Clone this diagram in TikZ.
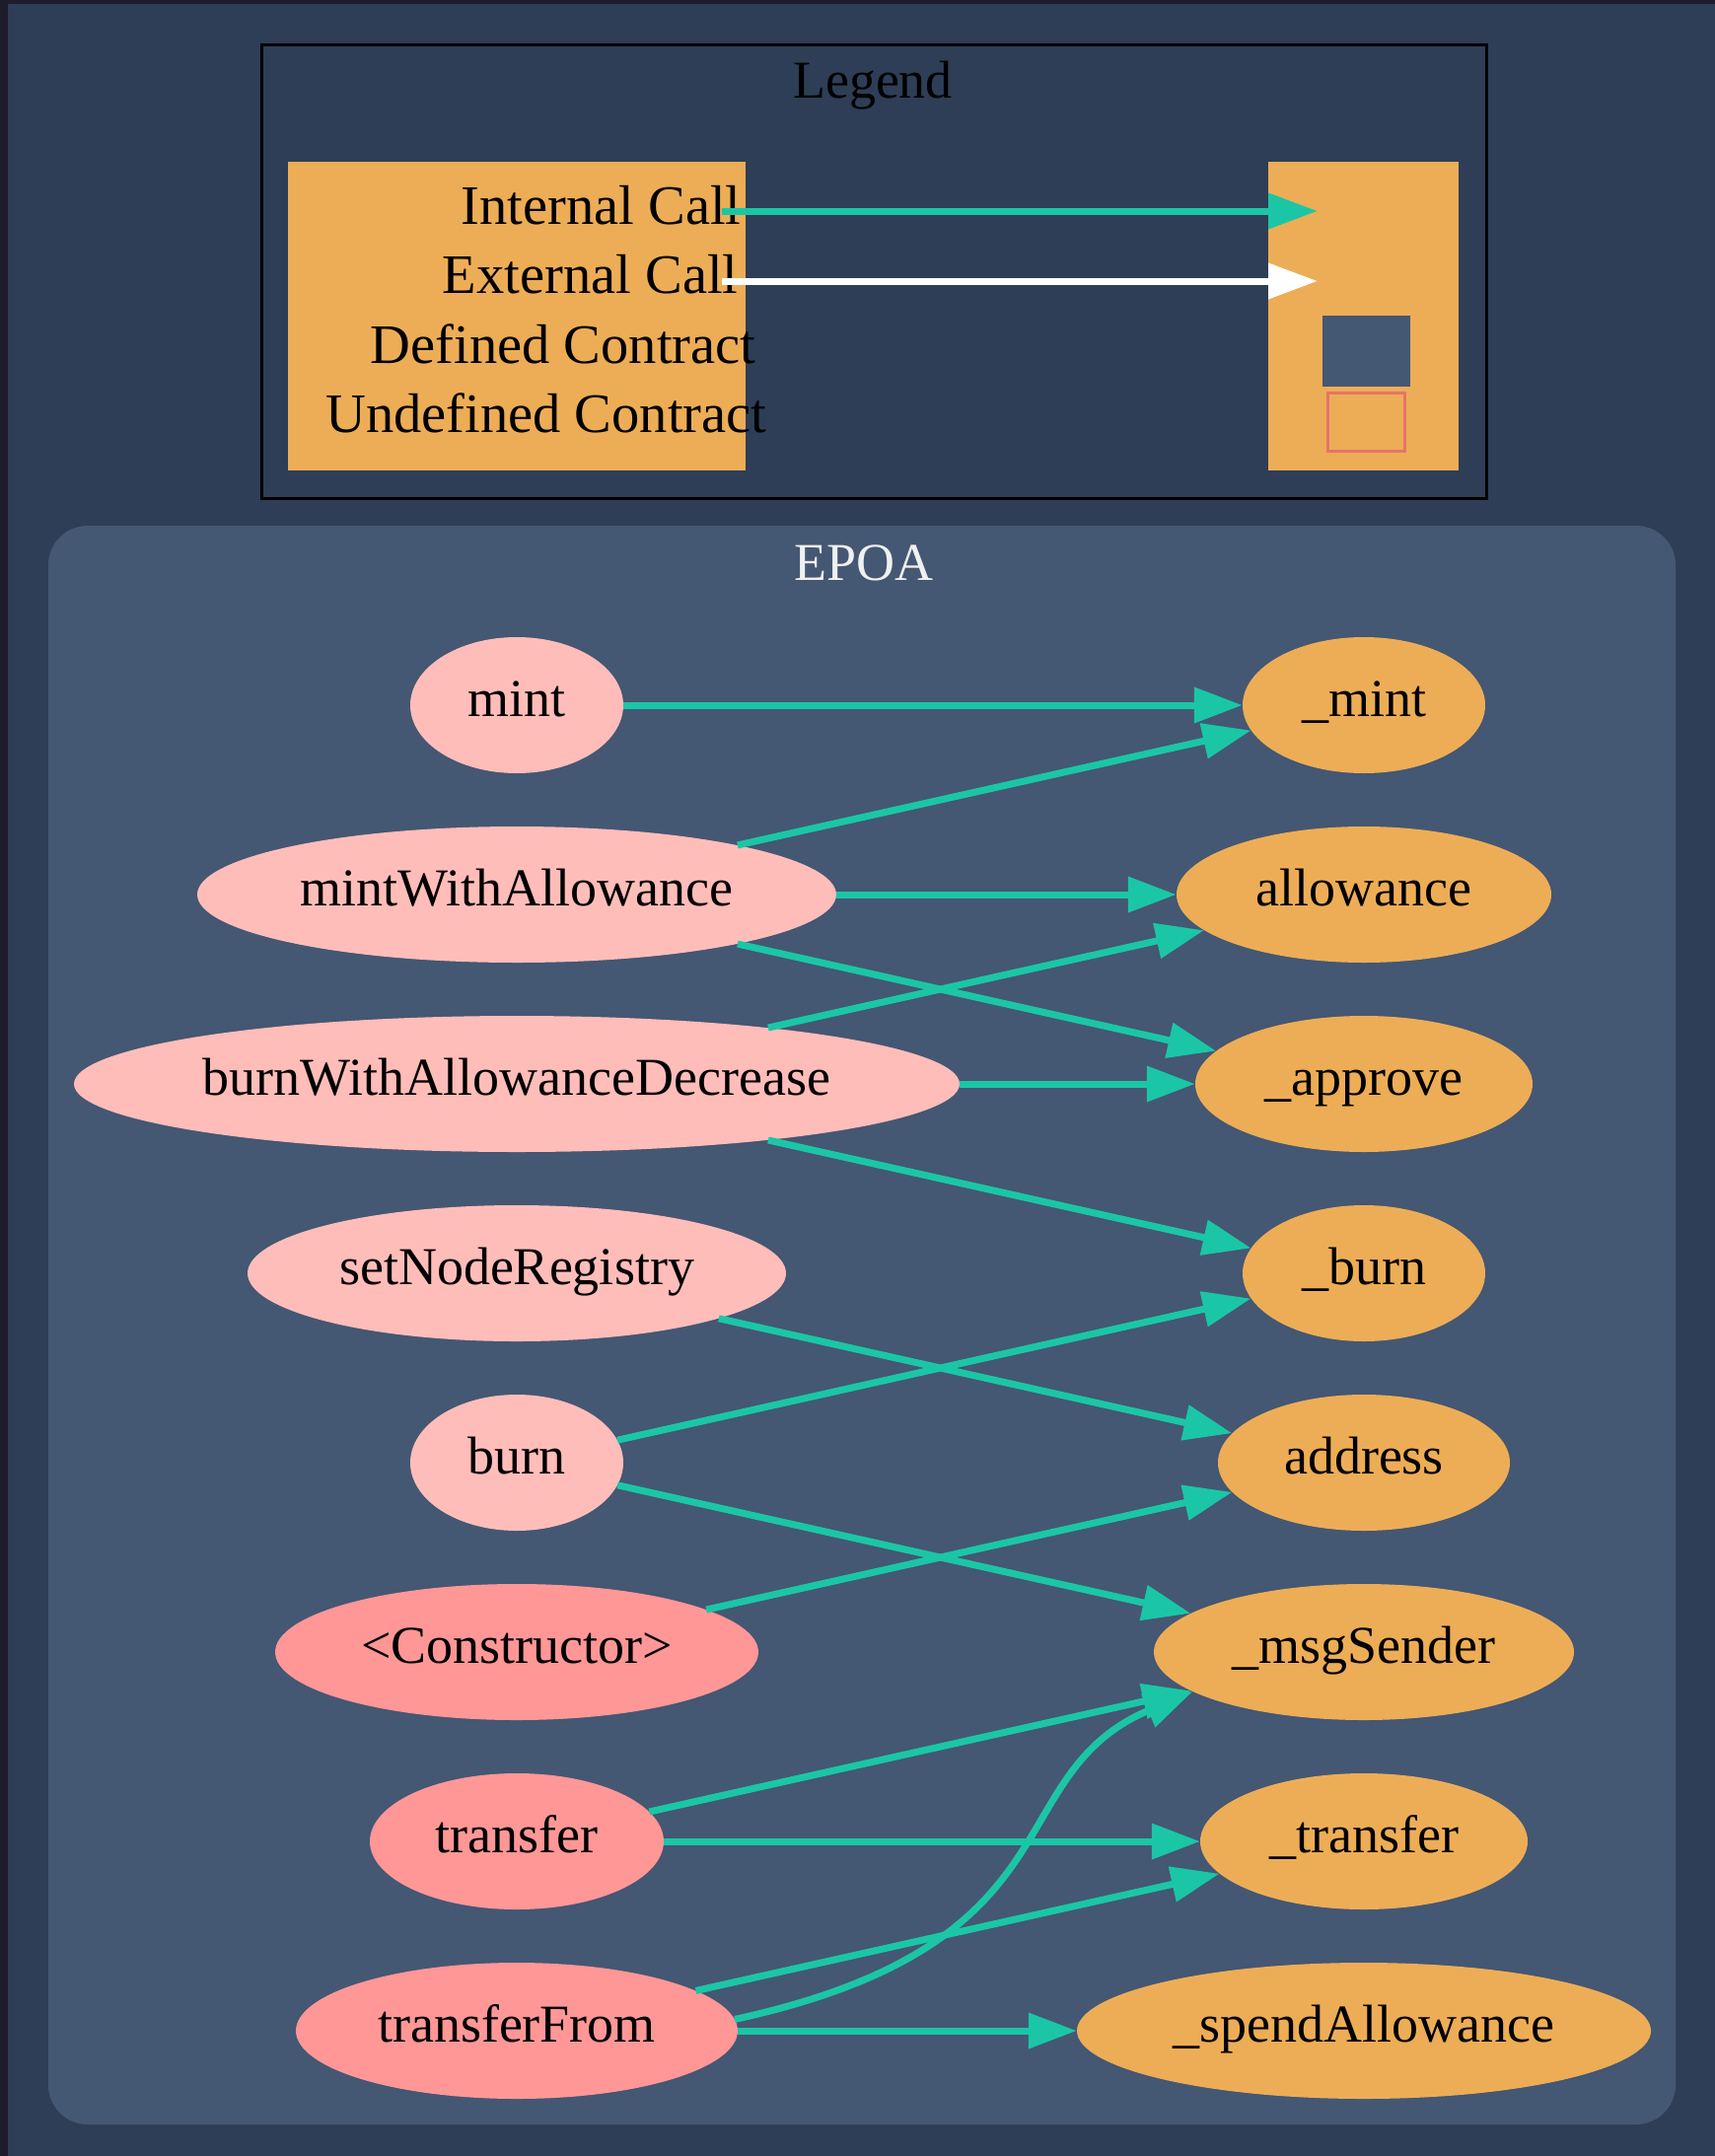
\documentclass[tikz,border=0pt]{standalone}
\usepackage{fontspec}
\setmainfont{Liberation Serif}
\usetikzlibrary{shapes.geometric,arrows.meta}

\definecolor{bgc}{HTML}{2E3E56}
\definecolor{framec}{HTML}{1D1C2B}
\definecolor{clusterc}{HTML}{445773}
\definecolor{pubc}{HTML}{FFBDB9}
\definecolor{extc}{HTML}{FF9797}
\definecolor{intc}{HTML}{EDAD56}
\definecolor{callc}{HTML}{1BC6A6}
\definecolor{undefc}{HTML}{E8726D}
\definecolor{titlec}{HTML}{F0F0F0}

\tikzset{
  fn/.style={ellipse, inner sep=0pt, minimum height=138pt,
             text height=30pt, text depth=8pt},
  pubfn/.style={fn, fill=pubc},
  extfn/.style={fn, fill=extc},
  intfn/.style={fn, fill=intc},
  call/.style={draw=callc, line width=7pt,
               -{Triangle[length=49pt,width=35pt]}},
  legcall/.style={line width=7pt, -{Triangle[length=50pt,width=35pt]}},
  legtext/.style={anchor=base east, font=\fontsize{56.5}{64}\selectfont},
}

\begin{document}
\begin{tikzpicture}[x=1pt, y=-1pt, font=\fontsize{54}{64}\selectfont]
\useasboundingbox (0,0) rectangle (1739,2186);

% canvas
\fill[bgc] (0,0) rectangle (1739,2186);
\fill[framec] (0,0) rectangle (1739,4);
\fill[framec] (0,0) rectangle (8,2186);

% legend
\draw[line width=3pt, fill=bgc] (265,46) rectangle (1507,505);
\node[anchor=base] (legtitle) at (885,100) {Legend};
\fill[intc] (292,164) rectangle (756,477);
\fill[intc] (1286,164) rectangle (1479,477);
\node[legtext] (lint) at (755,227) {Internal Call};
\node[legtext] (lext) at (752,297) {External Call};
\node[legtext] (ldef) at (770,368) {Defined Contract};
\node[legtext] (lundef) at (781,438) {Undefined Contract};
\fill[clusterc] (1341,320) rectangle (1430,392);
\draw[undefc, line width=3pt, fill=intc] (1346,398) rectangle (1424,457);
\coordinate (icfrom) at (732,214);
\coordinate (icto) at (1336,214);
\coordinate (ecfrom) at (732,285);
\coordinate (ecto) at (1336,285);
\draw[legcall, callc] (icfrom) -- (icto);
\draw[legcall, white] (ecfrom) -- (ecto);

% contract cluster
\fill[clusterc, rounded corners=40pt] (49,533) rectangle (1699,2154);
\node[anchor=base, text=titlec] (epoa) at (876,588) {EPOA};

% callers
\node[pubfn, minimum width=216pt] (mint) at (524,715) {\makebox[0pt]{mint}};
\node[pubfn, minimum width=648pt] (mwa) at (524,907) {\makebox[0pt]{mintWithAllowance}};
\node[pubfn, minimum width=898pt] (bwad) at (524,1099) {\makebox[0pt]{burnWithAllowanceDecrease}};
\node[pubfn, minimum width=546pt] (snr) at (524,1291) {\makebox[0pt]{setNodeRegistry}};
\node[pubfn, minimum width=216pt] (burn) at (524,1483) {\makebox[0pt]{burn}};
\node[extfn, minimum width=490pt] (ctor) at (524,1675) {\makebox[0pt]{<Constructor>}};
\node[extfn, minimum width=298pt] (transfer) at (524,1867) {\makebox[0pt]{transfer}};
\node[extfn, minimum width=448pt] (tfrom) at (524,2059) {\makebox[0pt]{transferFrom}};

% callees
\node[intfn, minimum width=246pt] (imint) at (1383,715) {\makebox[0pt]{\_mint}};
\node[intfn, minimum width=380pt] (iallow) at (1383,907) {\makebox[0pt]{allowance}};
\node[intfn, minimum width=342pt] (iapprove) at (1383,1099) {\makebox[0pt]{\_approve}};
\node[intfn, minimum width=246pt] (iburn) at (1383,1291) {\makebox[0pt]{\_burn}};
\node[intfn, minimum width=296pt] (iaddr) at (1383,1483) {\makebox[0pt]{address}};
\node[intfn, minimum width=426pt] (isender) at (1383,1675) {\makebox[0pt]{\_msgSender}};
\node[intfn, minimum width=332pt] (itransfer) at (1383,1867) {\makebox[0pt]{\_transfer}};
\node[intfn, minimum width=582pt] (ispend) at (1383,2059) {\makebox[0pt]{\_spendAllowance}};

% internal calls
\draw[call] (mint) -- (imint);
\draw[call] (mwa) -- (imint);
\draw[call] (mwa) -- (iallow);
\draw[call] (mwa) -- (iapprove);
\draw[call] (bwad) -- (iallow);
\draw[call] (bwad) -- (iapprove);
\draw[call] (bwad) -- (iburn);
\draw[call] (snr) -- (iaddr);
\draw[call] (burn) -- (iburn);
\draw[call] (burn) -- (isender);
\draw[call] (ctor) -- (iaddr);
\draw[call] (transfer) -- (isender);
\draw[call] (transfer) -- (itransfer);
\draw[call] (tfrom) -- (itransfer);
\draw[call] (tfrom.3) .. controls (1100,1970) and (1010,1800) .. (isender.193);
\draw[call] (tfrom) -- (ispend);
\end{tikzpicture}
\end{document}
